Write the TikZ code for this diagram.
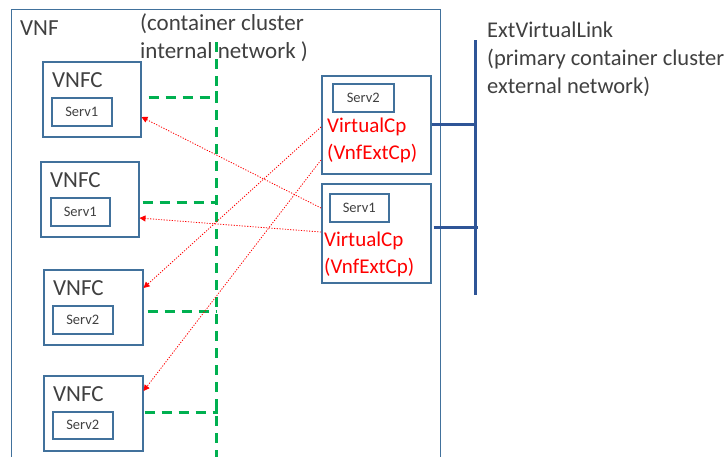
\documentclass[tikz,border=0pt]{standalone}
\usepackage{fontspec}
\setmainfont{Carlito}
\usetikzlibrary{arrows.meta}
\definecolor{boxblue}{HTML}{41719C}
\definecolor{linkblue}{HTML}{2F5597}
\definecolor{netgreen}{HTML}{00B050}
\definecolor{txtgray}{HTML}{404040}
\definecolor{cpred}{HTML}{FF0000}
\tikzset{
  vnfbox/.style={draw=boxblue, line width=1.1pt, anchor=north west, inner sep=0pt},
  cbox/.style={draw=boxblue, line width=1.5pt, anchor=north west, inner sep=0pt},
  big/.style={text=txtgray, font=\fontsize{23}{28}\selectfont, inner sep=0pt, anchor=west, align=left},
  small/.style={text=txtgray, font=\fontsize{14.5}{17}\selectfont, inner sep=0pt},
  redtxt/.style={text=cpred, font=\fontsize{21}{26.5}\selectfont, inner sep=0pt, anchor=west, align=left},
  gnet/.style={draw=netgreen, line width=3pt, dash pattern=on 10pt off 7pt},
  blink/.style={draw=linkblue, line width=3pt},
  redarr/.style={draw=cpred, line width=0.8pt, dash pattern=on 1.2pt off 1.5pt, -{Triangle[length=6pt,width=6pt]}}
}
\begin{document}
\begin{tikzpicture}[x=1pt,y=-1pt]
\useasboundingbox (0,0) rectangle (728,456);
% VNF
\node[vnfbox, minimum width=429pt, minimum height=460pt] (vnf) at (11,9) {};
\node[big] (vnft) at (20,28) {VNF};
% network text
\node[big, anchor=north west] (cct) at (140,13) {(container cluster\\internal network )};
% VNFCs
\node[cbox, minimum width=98pt, minimum height=75pt] (v1) at (42,61) {};
\node[big] (v1t) at (52,80) {VNFC};
\node[cbox, small, minimum width=60pt, minimum height=28pt] (s1) at (51,97) {Serv1};
\node[cbox, minimum width=98pt, minimum height=75pt] (v2) at (40,161) {};
\node[big] (v2t) at (50,180) {VNFC};
\node[cbox, small, minimum width=59pt, minimum height=28pt] (s2) at (50,197) {Serv1};
\node[cbox, minimum width=99pt, minimum height=75pt] (v3) at (43,269) {};
\node[big] (v3t) at (53,288) {VNFC};
\node[cbox, small, minimum width=60pt, minimum height=28pt] (s3) at (52,305) {Serv2};
\node[cbox, minimum width=99pt, minimum height=75pt] (v4) at (43,375) {};
\node[big] (v4t) at (53,394) {VNFC};
\node[cbox, small, minimum width=60pt, minimum height=27pt] (s4) at (52,411) {Serv2};
% right boxes
\node[cbox, minimum width=109pt, minimum height=98pt] (ra) at (321,75) {};
\node[cbox, small, minimum width=61pt, minimum height=28pt] (ras) at (332,83) {Serv2};
\node[redtxt, anchor=north west] (rat) at (327,118) {VirtualCp\\(VnfExtCp)};
\node[cbox, minimum width=109pt, minimum height=99pt] (rb) at (321,183) {};
\node[cbox, small, minimum width=59pt, minimum height=28pt] (rbs) at (329,193) {Serv1};
\node[redtxt, anchor=north west] (rbt) at (324,232) {VirtualCp\\(VnfExtCp)};
% green network
\coordinate (gtop) at (216,42);
\coordinate (gbot) at (216,460);
\draw[gnet] (gtop) -- (gbot);
\coordinate (g1) at (216,97);
\coordinate (g2) at (216,202);
\coordinate (g3) at (216,311);
\coordinate (g4) at (216,412);
\draw[gnet] ([xshift=7pt]v1.east |- g1) -- (g1) -- ++(0,-6);
\draw[gnet] ([xshift=3pt]v2.east |- g2) -- (g2) -- ++(0,-6);
\draw[gnet] ([xshift=4pt]v3.east |- g3) -- (g3);
\draw[gnet] ([xshift=1pt]v4.east |- g4) -- (g4) -- ++(0,-6);
% external link
\coordinate (btop) at (475,40);
\coordinate (bbot) at (475,295);
\draw[blink] (btop) -- (bbot);
\coordinate (b1) at (475,124);
\coordinate (b2) at (478,227);
\draw[blink] (ra.east |- b1) -- (b1);
\draw[blink] ([xshift=2pt]rb.east |- b2) -- (b2);
\node[big, font=\fontsize{22.5}{28}\selectfont, anchor=north west] (evl) at (487,22) {ExtVirtualLink\\(primary container cluster\\external network)};
% red arrows
\coordinate (p1) at (321,208);
\coordinate (p2) at (321,232);
\coordinate (p3) at (321,127);
\coordinate (p4) at (321,160);
\draw[redarr] (p1) -- (v1.east |- 0,117);
\draw[redarr] (p2) -- (v2.east |- 0,218);
\draw[redarr] (p3) -- (v3.east |- 0,288);
\draw[redarr] (p4) -- (v4.east |- 0,391);
\end{tikzpicture}
\end{document}
